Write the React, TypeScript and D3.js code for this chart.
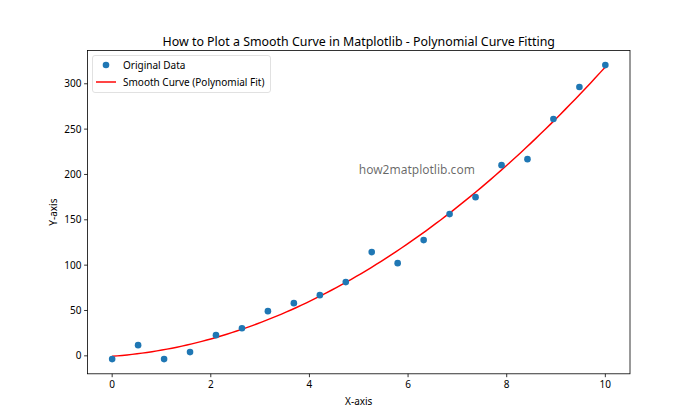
import React from "react";
import * as d3 from "d3";

const xValues = [0, 0.526, 1.053, 1.579, 2.105, 2.632, 3.158, 3.684, 4.211, 4.737, 5.263, 5.789, 6.316, 6.842, 7.368, 7.895, 8.421, 8.947, 9.474, 10];
const yValues = [-3.6, 11.8, -3.6, 4.1, 22.8, 30.5, 49.3, 58.1, 66.9, 81.3, 114.4, 102.2, 127.6, 156.3, 175.0, 210.3, 216.9, 261.1, 296.4, 320.6];
const xTicks = [0, 2, 4, 6, 8, 10];
const yTicks = [0, 50, 100, 150, 200, 250, 300];
const titleText = "How to Plot a Smooth Curve in Matplotlib - Polynomial Curve Fitting";
const legendLabels = ["Original Data", "Smooth Curve (Polynomial Fit)"];
const watermark = "how2matplotlib.com";

// least-squares quadratic fit of the data (like np.polyfit(x, y, 2))
function polyfit2(xs: number[], ys: number[]) {
  const S = (f: (x: number, y: number) => number) => d3.sum(xs.map((x, i) => f(x, ys[i])));
  const n = xs.length;
  const sx = S((x) => x), sx2 = S((x) => x * x), sx3 = S((x) => x ** 3), sx4 = S((x) => x ** 4);
  const sy = S((_, y) => y), sxy = S((x, y) => x * y), sx2y = S((x, y) => x * x * y);
  const A = [
    [n, sx, sx2, sy],
    [sx, sx2, sx3, sxy],
    [sx2, sx3, sx4, sx2y],
  ];
  for (let i = 0; i < 3; i++) {
    for (let k = i + 1; k < 3; k++) {
      const f = A[k][i] / A[i][i];
      for (let j = i; j < 4; j++) A[k][j] -= f * A[i][j];
    }
  }
  const c = [0, 0, 0];
  for (let i = 2; i >= 0; i--) {
    let s = A[i][3];
    for (let j = i + 1; j < 3; j++) s -= A[i][j] * c[j];
    c[i] = s / A[i][i];
  }
  return (x: number) => c[0] + c[1] * x + c[2] * x * x;
}

export default function App() {
  const W = 700, H = 420;
  const L = 87.5, R = 630, T = 50.4, B = 373.8;
  const font = "'Noto Sans', sans-serif";
  const ymin = d3.min(yValues)!, ymax = d3.max(yValues)!;
  const pad = (ymax - ymin) * 0.05;
  const x = d3.scaleLinear().domain([-0.5, 10.5]).range([L, R]);
  const y = d3.scaleLinear().domain([ymin - pad, ymax + pad]).range([B, T]);
  const fit = polyfit2(xValues, yValues);
  const xs = d3.range(0, 100).map((i) => (i * 10) / 99);
  const line = d3.line<number>().x((d) => x(d)).y((d) => y(fit(d)));
  return (
    <svg width={W} height={H} style={{ position: "absolute", left: 0, top: 0, background: "#fff" }} fontFamily={font}>
      <rect x={0} y={0} width={W} height={H} fill="#fff" />
      <text x={(L + R) / 2} y={45.5} textAnchor="middle" fontSize={12.4} fill="#000">{titleText}</text>
      <path d={line(xs) || ""} fill="none" stroke="red" strokeWidth={1.46} />
      {xValues.map((xv, i) => (
        <circle key={i} cx={x(xv)} cy={y(yValues[i])} r={3.3} fill="#1f77b4" />
      ))}
      <text x={x(5)} y={y(200)} fontSize={12} fill="#000" fillOpacity={0.6}>{watermark}</text>
      <rect x={L} y={T} width={R - L} height={B - T} fill="none" stroke="#000" strokeWidth={0.8} />
      {xTicks.map((t) => (
        <g key={t}>
          <line x1={x(t)} x2={x(t)} y1={B} y2={B + 3.4} stroke="#000" strokeWidth={0.8} />
          <text x={x(t)} y={B + 14.5} textAnchor="middle" fontSize={10} fill="#000">{t}</text>
        </g>
      ))}
      {yTicks.map((t) => (
        <g key={t}>
          <line x1={L - 3.4} x2={L} y1={y(t)} y2={y(t)} stroke="#000" strokeWidth={0.8} />
          <text x={L - 6} y={y(t) + 3.6} textAnchor="end" fontSize={10} fill="#000">{t}</text>
        </g>
      ))}
      <text x={(L + R) / 2} y={404.5} textAnchor="middle" fontSize={10} fill="#000">X-axis</text>
      <text transform={`translate(56.5,${(T + B) / 2}) rotate(-90)`} textAnchor="middle" fontSize={10} fill="#000">Y-axis</text>
      <g>
        <rect x={92.5} y={55.5} width={178} height={37} rx={2.5} fill="#fff" fillOpacity={0.8} stroke="#d9d9d9" strokeWidth={0.8} />
        <circle cx={106} cy={65} r={3.3} fill="#1f77b4" />
        <text x={123} y={68.5} fontSize={10} fill="#000">{legendLabels[0]}</text>
        <line x1={96} x2={116} y1={82} y2={82} stroke="red" strokeWidth={1.46} />
        <text x={123} y={85.5} fontSize={10} fill="#000">{legendLabels[1]}</text>
      </g>
    </svg>
  );
}
